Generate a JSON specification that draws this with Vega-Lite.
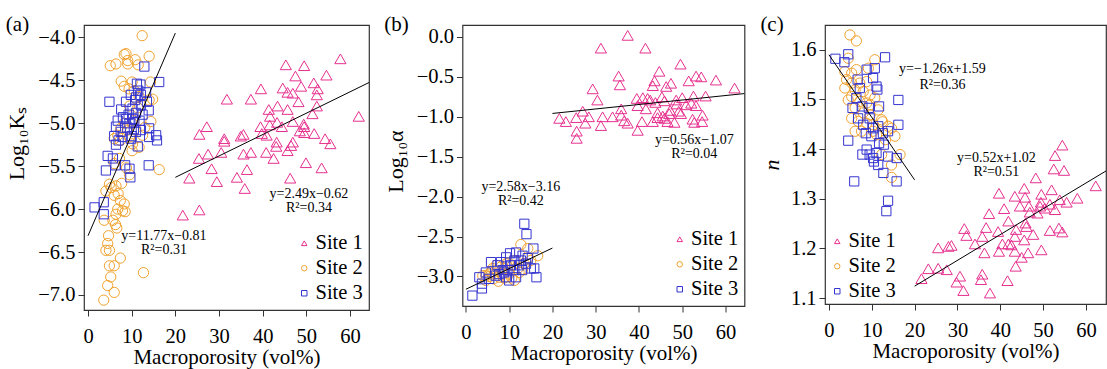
{
"$schema": "https://vega.github.io/schema/vega-lite/v6.json",
"padding": {"left": 5, "top": 13, "right": 0, "bottom": 0},
"config": {
  "font": "Liberation Serif",
  "view": {"stroke": "#333", "strokeWidth": 1.2},
  "axis": {"grid": false, "domain": false, "tickColor": "#333", "tickSize": 6, "labelFontSize": 20.5, "titleFontSize": 21, "labelColor": "black", "titleColor": "black", "titleFontWeight": "normal", "labelPadding": 3, "labelFont": "Liberation Serif", "titleFont": "Liberation Serif"},
  "axisX": {"labelPadding": 10, "titlePadding": 0},
  "axisY": {"titleFontSize": 22, "titlePadding": 9},
  "legend": {"labelFontSize": 20.5, "labelFont": "Liberation Serif", "labelColor": "black", "symbolSize": 30, "symbolStrokeWidth": 1, "rowPadding": 4, "labelOffset": 1, "padding": 0, "offset": 6},
  "title": {"font": "Liberation Serif", "fontSize": 21, "fontWeight": "normal", "anchor": "start", "frame": "bounds", "offset": -10, "color": "black"}
},
"datasets": {
"a": [
{"site":"Site 1","x":45.3,"y":-4.32},{"site":"Site 1","x":49.5,"y":-4.33},{"site":"Site 1","x":57.8,"y":-4.25},{"site":"Site 1","x":47.5,"y":-4.45},{"site":"Site 1","x":54.6,"y":-4.44},{"site":"Site 1","x":39.6,"y":-4.6},{"site":"Site 1","x":44.6,"y":-4.59},{"site":"Site 1","x":48.8,"y":-4.57},{"site":"Site 1","x":51.7,"y":-4.53},{"site":"Site 1","x":52.6,"y":-4.6},{"site":"Site 1","x":45.7,"y":-4.64},{"site":"Site 1","x":46.9,"y":-4.65},{"site":"Site 1","x":52.4,"y":-4.67},{"site":"Site 1","x":31.8,"y":-4.72},{"site":"Site 1","x":37.3,"y":-4.72},{"site":"Site 1","x":48.2,"y":-4.75},{"site":"Site 1","x":43.4,"y":-4.8},{"site":"Site 1","x":41.4,"y":-4.84},{"site":"Site 1","x":45.7,"y":-4.84},{"site":"Site 1","x":52.4,"y":-4.8},{"site":"Site 1","x":51.4,"y":-4.89},{"site":"Site 1","x":62.0,"y":-4.92},{"site":"Site 1","x":41.7,"y":-4.92},{"site":"Site 1","x":43.3,"y":-4.99},{"site":"Site 1","x":46.9,"y":-4.98},{"site":"Site 1","x":27.2,"y":-5.04},{"site":"Site 1","x":39.5,"y":-5.04},{"site":"Site 1","x":41.6,"y":-5.02},{"site":"Site 1","x":44.4,"y":-5.04},{"site":"Site 1","x":49.4,"y":-5.01},{"site":"Site 1","x":49.5,"y":-5.04},{"site":"Site 1","x":48.5,"y":-5.09},{"site":"Site 1","x":25.5,"y":-5.13},{"site":"Site 1","x":35.6,"y":-5.13},{"site":"Site 1","x":35.0,"y":-5.15},{"site":"Site 1","x":31.2,"y":-5.18},{"site":"Site 1","x":31.2,"y":-5.21},{"site":"Site 1","x":39.8,"y":-5.12},{"site":"Site 1","x":40.9,"y":-5.14},{"site":"Site 1","x":51.8,"y":-5.12},{"site":"Site 1","x":49.5,"y":-5.11},{"site":"Site 1","x":54.3,"y":-5.18},{"site":"Site 1","x":55.5,"y":-5.24},{"site":"Site 1","x":43.2,"y":-5.22},{"site":"Site 1","x":43.1,"y":-5.27},{"site":"Site 1","x":46.9,"y":-5.22},{"site":"Site 1","x":46.5,"y":-5.26},{"site":"Site 1","x":45.7,"y":-5.32},{"site":"Site 1","x":27.5,"y":-5.36},{"site":"Site 1","x":30.5,"y":-5.34},{"site":"Site 1","x":35.6,"y":-5.36},{"site":"Site 1","x":37.3,"y":-5.34},{"site":"Site 1","x":40.8,"y":-5.34},{"site":"Site 1","x":25.4,"y":-5.41},{"site":"Site 1","x":42.5,"y":-5.41},{"site":"Site 1","x":28.3,"y":-5.53},{"site":"Site 1","x":36.4,"y":-5.54},{"site":"Site 1","x":49.9,"y":-5.46},{"site":"Site 1","x":53.5,"y":-5.52},{"site":"Site 1","x":23.2,"y":-5.64},{"site":"Site 1","x":29.5,"y":-5.68},{"site":"Site 1","x":34.1,"y":-5.63},{"site":"Site 1","x":35.9,"y":-5.76},{"site":"Site 1","x":46.3,"y":-5.64},{"site":"Site 1","x":21.7,"y":-6.07},{"site":"Site 1","x":25.5,"y":-6.01},
{"site":"Site 2","x":12.4,"y":-3.98},{"site":"Site 2","x":8.3,"y":-4.2},{"site":"Site 2","x":8.7,"y":-4.19},{"site":"Site 2","x":5.1,"y":-4.33},{"site":"Site 2","x":6.4,"y":-4.31},{"site":"Site 2","x":9.1,"y":-4.27},{"site":"Site 2","x":9.1,"y":-4.31},{"site":"Site 2","x":10.8,"y":-4.26},{"site":"Site 2","x":11.5,"y":-4.32},{"site":"Site 2","x":14.0,"y":-4.22},{"site":"Site 2","x":7.6,"y":-4.51},{"site":"Site 2","x":8.3,"y":-4.57},{"site":"Site 2","x":10.1,"y":-4.52},{"site":"Site 2","x":9.4,"y":-4.6},{"site":"Site 2","x":10.6,"y":-4.62},{"site":"Site 2","x":11.7,"y":-4.69},{"site":"Site 2","x":14.3,"y":-4.52},{"site":"Site 2","x":14.0,"y":-4.73},{"site":"Site 2","x":14.8,"y":-4.72},{"site":"Site 2","x":11.4,"y":-4.82},{"site":"Site 2","x":10.5,"y":-4.97},{"site":"Site 2","x":10.1,"y":-5.0},{"site":"Site 2","x":8.3,"y":-5.0},{"site":"Site 2","x":9.0,"y":-5.08},{"site":"Site 2","x":7.5,"y":-5.06},{"site":"Site 2","x":6.8,"y":-5.14},{"site":"Site 2","x":6.0,"y":-5.18},{"site":"Site 2","x":7.4,"y":-5.2},{"site":"Site 2","x":9.5,"y":-5.16},{"site":"Site 2","x":10.2,"y":-5.24},{"site":"Site 2","x":10.1,"y":-5.32},{"site":"Site 2","x":7.2,"y":-5.41},{"site":"Site 2","x":4.9,"y":-5.71},{"site":"Site 2","x":5.3,"y":-5.75},{"site":"Site 2","x":6.4,"y":-5.73},{"site":"Site 2","x":7.7,"y":-5.7},{"site":"Site 2","x":4.1,"y":-5.79},{"site":"Site 2","x":6.0,"y":-5.84},{"site":"Site 2","x":6.9,"y":-5.82},{"site":"Site 2","x":7.4,"y":-5.9},{"site":"Site 2","x":8.3,"y":-5.94},{"site":"Site 2","x":6.8,"y":-6.0},{"site":"Site 2","x":7.9,"y":-6.02},{"site":"Site 2","x":8.5,"y":-6.03},{"site":"Site 2","x":6.4,"y":-6.06},{"site":"Site 2","x":3.7,"y":-6.13},{"site":"Site 2","x":5.7,"y":-6.13},{"site":"Site 2","x":6.3,"y":-6.18},{"site":"Site 2","x":6.6,"y":-6.22},{"site":"Site 2","x":4.7,"y":-6.31},{"site":"Site 2","x":4.5,"y":-6.4},{"site":"Site 2","x":4.1,"y":-6.48},{"site":"Site 2","x":4.9,"y":-6.48},{"site":"Site 2","x":4.9,"y":-6.66},{"site":"Site 2","x":6.0,"y":-6.66},{"site":"Site 2","x":7.4,"y":-6.57},{"site":"Site 2","x":5.2,"y":-6.79},{"site":"Site 2","x":4.5,"y":-6.89},{"site":"Site 2","x":6.0,"y":-6.97},{"site":"Site 2","x":3.6,"y":-7.06},{"site":"Site 2","x":12.7,"y":-6.74},{"site":"Site 2","x":16.3,"y":-5.54},{"site":"Site 2","x":11.7,"y":-5.28},{"site":"Site 2","x":12.5,"y":-5.14},{"site":"Site 2","x":9.5,"y":-4.8},{"site":"Site 2","x":6.0,"y":-5.47},{"site":"Site 2","x":8.8,"y":-5.52},{"site":"Site 2","x":9.5,"y":-5.6},{"site":"Site 2","x":14.4,"y":-4.98},{"site":"Site 2","x":13.0,"y":-5.05},
{"site":"Site 3","x":12.9,"y":-4.34},{"site":"Site 3","x":4.9,"y":-4.75},{"site":"Site 3","x":11.2,"y":-4.54},{"site":"Site 3","x":11.5,"y":-4.62},{"site":"Site 3","x":12.1,"y":-4.67},{"site":"Site 3","x":13.3,"y":-4.64},{"site":"Site 3","x":16.3,"y":-4.52},{"site":"Site 3","x":9.8,"y":-4.67},{"site":"Site 3","x":8.7,"y":-4.75},{"site":"Site 3","x":10.8,"y":-4.73},{"site":"Site 3","x":13.9,"y":-4.85},{"site":"Site 3","x":7.6,"y":-4.84},{"site":"Site 3","x":10.2,"y":-4.83},{"site":"Site 3","x":12.1,"y":-4.79},{"site":"Site 3","x":8.7,"y":-4.95},{"site":"Site 3","x":6.8,"y":-4.97},{"site":"Site 3","x":9.5,"y":-5.0},{"site":"Site 3","x":10.6,"y":-4.99},{"site":"Site 3","x":12.1,"y":-5.08},{"site":"Site 3","x":14.0,"y":-5.06},{"site":"Site 3","x":6.4,"y":-5.04},{"site":"Site 3","x":6.0,"y":-5.15},{"site":"Site 3","x":6.4,"y":-5.25},{"site":"Site 3","x":7.9,"y":-5.16},{"site":"Site 3","x":9.8,"y":-5.18},{"site":"Site 3","x":11.4,"y":-5.27},{"site":"Site 3","x":14.0,"y":-5.16},{"site":"Site 3","x":15.6,"y":-5.14},{"site":"Site 3","x":15.8,"y":-5.2},{"site":"Site 3","x":4.5,"y":-5.38},{"site":"Site 3","x":5.7,"y":-5.41},{"site":"Site 3","x":4.1,"y":-5.55},{"site":"Site 3","x":6.3,"y":-5.49},{"site":"Site 3","x":8.5,"y":-5.49},{"site":"Site 3","x":9.5,"y":-5.53},{"site":"Site 3","x":9.7,"y":-5.63},{"site":"Site 3","x":13.9,"y":-5.49},{"site":"Site 3","x":1.5,"y":-5.98},{"site":"Site 3","x":3.6,"y":-5.92},{"site":"Site 3","x":3.6,"y":-6.06},{"site":"Site 3","x":9.3,"y":-4.9},{"site":"Site 3","x":10.3,"y":-4.95},{"site":"Site 3","x":11.0,"y":-4.88},{"site":"Site 3","x":11.8,"y":-4.97},{"site":"Site 3","x":10.5,"y":-5.07},{"site":"Site 3","x":12.5,"y":-4.9},{"site":"Site 3","x":11.0,"y":-5.1},{"site":"Site 3","x":9.0,"y":-5.05},{"site":"Site 3","x":7.5,"y":-5.1},{"site":"Site 3","x":11.0,"y":-4.7},{"site":"Site 3","x":12.0,"y":-4.55},{"site":"Site 3","x":10.0,"y":-5.15},{"site":"Site 3","x":13.5,"y":-4.75},{"site":"Site 3","x":8.0,"y":-4.93},{"site":"Site 3","x":7.0,"y":-5.2}
],
"b": [
{"site":"Site 1","x":37.4,"y":0.02},{"site":"Site 1","x":31.2,"y":-0.14},{"site":"Site 1","x":41.5,"y":-0.14},{"site":"Site 1","x":49.6,"y":-0.34},{"site":"Site 1","x":44.7,"y":-0.43},{"site":"Site 1","x":35.3,"y":-0.49},{"site":"Site 1","x":35.6,"y":-0.6},{"site":"Site 1","x":43.6,"y":-0.55},{"site":"Site 1","x":53.2,"y":-0.49},{"site":"Site 1","x":54.4,"y":-0.5},{"site":"Site 1","x":57.8,"y":-0.54},{"site":"Site 1","x":62.1,"y":-0.64},{"site":"Site 1","x":51.5,"y":-0.55},{"site":"Site 1","x":47.4,"y":-0.58},{"site":"Site 1","x":43.2,"y":-0.61},{"site":"Site 1","x":46.3,"y":-0.62},{"site":"Site 1","x":29.3,"y":-0.65},{"site":"Site 1","x":30.4,"y":-0.79},{"site":"Site 1","x":39.5,"y":-0.77},{"site":"Site 1","x":40.9,"y":-0.76},{"site":"Site 1","x":42.0,"y":-0.77},{"site":"Site 1","x":42.6,"y":-0.79},{"site":"Site 1","x":45.3,"y":-0.75},{"site":"Site 1","x":45.9,"y":-0.8},{"site":"Site 1","x":48.6,"y":-0.79},{"site":"Site 1","x":50.0,"y":-0.76},{"site":"Site 1","x":52.6,"y":-0.74},{"site":"Site 1","x":55.4,"y":-0.74},{"site":"Site 1","x":39.7,"y":-0.86},{"site":"Site 1","x":35.9,"y":-0.9},{"site":"Site 1","x":43.8,"y":-0.82},{"site":"Site 1","x":48.7,"y":-0.84},{"site":"Site 1","x":50.9,"y":-0.85},{"site":"Site 1","x":52.1,"y":-0.83},{"site":"Site 1","x":53.2,"y":-0.86},{"site":"Site 1","x":27.0,"y":-0.93},{"site":"Site 1","x":41.6,"y":-0.9},{"site":"Site 1","x":44.3,"y":-0.95},{"site":"Site 1","x":47.2,"y":-0.92},{"site":"Site 1","x":49.2,"y":-0.93},{"site":"Site 1","x":21.6,"y":-1.02},{"site":"Site 1","x":23.1,"y":-1.06},{"site":"Site 1","x":25.5,"y":-1.01},{"site":"Site 1","x":28.4,"y":-1.0},{"site":"Site 1","x":31.6,"y":-1.0},{"site":"Site 1","x":33.9,"y":-1.0},{"site":"Site 1","x":35.9,"y":-0.98},{"site":"Site 1","x":36.6,"y":-1.05},{"site":"Site 1","x":37.4,"y":-1.08},{"site":"Site 1","x":27.6,"y":-1.08},{"site":"Site 1","x":31.2,"y":-1.11},{"site":"Site 1","x":25.6,"y":-1.18},{"site":"Site 1","x":25.6,"y":-1.27},{"site":"Site 1","x":39.7,"y":-1.17},{"site":"Site 1","x":40.7,"y":-1.06},{"site":"Site 1","x":43.2,"y":-1.06},{"site":"Site 1","x":44.3,"y":-1.01},{"site":"Site 1","x":45.5,"y":-0.99},{"site":"Site 1","x":46.6,"y":-1.06},{"site":"Site 1","x":48.2,"y":-1.07},{"site":"Site 1","x":49.7,"y":-0.96},{"site":"Site 1","x":52.4,"y":-1.03},{"site":"Site 1","x":52.8,"y":-1.07},{"site":"Site 1","x":54.7,"y":-0.98},{"site":"Site 1","x":54.6,"y":-1.06},{"site":"Site 1","x":47.0,"y":-0.96},{"site":"Site 1","x":45.9,"y":-1.02},
{"site":"Site 2","x":12.7,"y":-2.6},{"site":"Site 2","x":14.3,"y":-2.65},{"site":"Site 2","x":16.6,"y":-2.74},{"site":"Site 2","x":15.0,"y":-2.8},{"site":"Site 2","x":3.9,"y":-2.99},{"site":"Site 2","x":4.6,"y":-3.05},{"site":"Site 2","x":5.4,"y":-3.0},{"site":"Site 2","x":6.5,"y":-2.97},{"site":"Site 2","x":7.7,"y":-3.01},{"site":"Site 2","x":7.5,"y":-3.06},{"site":"Site 2","x":8.9,"y":-2.9},{"site":"Site 2","x":8.1,"y":-2.88},{"site":"Site 2","x":10.0,"y":-2.97},{"site":"Site 2","x":11.2,"y":-3.05},{"site":"Site 2","x":10.8,"y":-2.86},{"site":"Site 2","x":9.3,"y":-2.84},{"site":"Site 2","x":13.5,"y":-2.84},{"site":"Site 2","x":12.3,"y":-2.95},{"site":"Site 2","x":6.2,"y":-2.9},{"site":"Site 2","x":6.9,"y":-2.92},{"site":"Site 2","x":5.8,"y":-2.94},{"site":"Site 2","x":8.8,"y":-3.02},{"site":"Site 2","x":12.0,"y":-2.9},{"site":"Site 2","x":14.3,"y":-2.77},{"site":"Site 2","x":7.0,"y":-2.86},{"site":"Site 2","x":9.8,"y":-2.83},{"site":"Site 2","x":11.4,"y":-2.8},{"site":"Site 2","x":5.4,"y":-2.97},{"site":"Site 2","x":8.4,"y":-2.97},{"site":"Site 2","x":4.6,"y":-2.99},{"site":"Site 2","x":6.4,"y":-3.03},{"site":"Site 2","x":10.6,"y":-3.02},{"site":"Site 2","x":13.1,"y":-2.91},
{"site":"Site 3","x":13.5,"y":-2.34},{"site":"Site 3","x":14.0,"y":-2.47},{"site":"Site 3","x":15.6,"y":-2.65},{"site":"Site 3","x":1.5,"y":-3.24},{"site":"Site 3","x":3.7,"y":-3.15},{"site":"Site 3","x":3.7,"y":-3.09},{"site":"Site 3","x":5.8,"y":-2.82},{"site":"Site 3","x":8.5,"y":-2.92},{"site":"Site 3","x":10.2,"y":-2.71},{"site":"Site 3","x":11.6,"y":-2.7},{"site":"Site 3","x":12.7,"y":-2.8},{"site":"Site 3","x":15.0,"y":-2.9},{"site":"Site 3","x":15.8,"y":-2.9},{"site":"Site 3","x":16.3,"y":-3.01},{"site":"Site 3","x":14.3,"y":-2.77},{"site":"Site 3","x":13.0,"y":-2.92},{"site":"Site 3","x":11.2,"y":-2.92},{"site":"Site 3","x":11.2,"y":-2.8},{"site":"Site 3","x":9.3,"y":-2.76},{"site":"Site 3","x":7.3,"y":-2.86},{"site":"Site 3","x":6.9,"y":-2.99},{"site":"Site 3","x":4.6,"y":-2.95},{"site":"Site 3","x":5.4,"y":-3.03},{"site":"Site 3","x":9.3,"y":-3.01},{"site":"Site 3","x":11.6,"y":-3.01},{"site":"Site 3","x":10.4,"y":-2.86},{"site":"Site 3","x":12.3,"y":-2.86},{"site":"Site 3","x":13.9,"y":-2.84},{"site":"Site 3","x":8.1,"y":-2.82},{"site":"Site 3","x":9.6,"y":-2.92},{"site":"Site 3","x":3.1,"y":-3.01},{"site":"Site 3","x":10.0,"y":-3.05},{"site":"Site 3","x":13.1,"y":-2.74},{"site":"Site 3","x":7.7,"y":-2.97},{"site":"Site 3","x":8.8,"y":-2.95}
],
"c": [
{"site":"Site 1","x":54.5,"y":1.408},{"site":"Site 1","x":52.8,"y":1.387},{"site":"Site 1","x":52.5,"y":1.36},{"site":"Site 1","x":54.9,"y":1.357},{"site":"Site 1","x":48.3,"y":1.342},{"site":"Site 1","x":62.3,"y":1.326},{"site":"Site 1","x":39.7,"y":1.311},{"site":"Site 1","x":45.6,"y":1.321},{"site":"Site 1","x":43.4,"y":1.305},{"site":"Site 1","x":45.8,"y":1.303},{"site":"Site 1","x":49.6,"y":1.309},{"site":"Site 1","x":52.0,"y":1.318},{"site":"Site 1","x":58.0,"y":1.301},{"site":"Site 1","x":55.5,"y":1.293},{"site":"Site 1","x":44.6,"y":1.285},{"site":"Site 1","x":46.7,"y":1.285},{"site":"Site 1","x":49.3,"y":1.285},{"site":"Site 1","x":50.4,"y":1.281},{"site":"Site 1","x":51.6,"y":1.289},{"site":"Site 1","x":52.8,"y":1.278},{"site":"Site 1","x":40.9,"y":1.28},{"site":"Site 1","x":37.4,"y":1.27},{"site":"Site 1","x":46.9,"y":1.273},{"site":"Site 1","x":48.7,"y":1.271},{"site":"Site 1","x":41.9,"y":1.255},{"site":"Site 1","x":45.9,"y":1.251},{"site":"Site 1","x":46.1,"y":1.244},{"site":"Site 1","x":36.7,"y":1.242},{"site":"Site 1","x":31.6,"y":1.24},{"site":"Site 1","x":39.5,"y":1.234},{"site":"Site 1","x":43.7,"y":1.238},{"site":"Site 1","x":51.6,"y":1.236},{"site":"Site 1","x":53.7,"y":1.241},{"site":"Site 1","x":54.5,"y":1.233},{"site":"Site 1","x":32.1,"y":1.226},{"site":"Site 1","x":35.8,"y":1.224},{"site":"Site 1","x":43.4,"y":1.224},{"site":"Site 1","x":47.7,"y":1.228},{"site":"Site 1","x":34.1,"y":1.209},{"site":"Site 1","x":40.5,"y":1.209},{"site":"Site 1","x":41.9,"y":1.209},{"site":"Site 1","x":42.6,"y":1.207},{"site":"Site 1","x":45.6,"y":1.217},{"site":"Site 1","x":25.5,"y":1.201},{"site":"Site 1","x":27.9,"y":1.204},{"site":"Site 1","x":28.6,"y":1.206},{"site":"Site 1","x":36.3,"y":1.191},{"site":"Site 1","x":39.7,"y":1.194},{"site":"Site 1","x":43.4,"y":1.194},{"site":"Site 1","x":49.6,"y":1.197},{"site":"Site 1","x":45.0,"y":1.182},{"site":"Site 1","x":46.5,"y":1.191},{"site":"Site 1","x":43.6,"y":1.164},{"site":"Site 1","x":23.2,"y":1.159},{"site":"Site 1","x":25.5,"y":1.16},{"site":"Site 1","x":27.5,"y":1.157},{"site":"Site 1","x":21.6,"y":1.139},{"site":"Site 1","x":30.6,"y":1.144},{"site":"Site 1","x":35.8,"y":1.148},{"site":"Site 1","x":41.7,"y":1.135},{"site":"Site 1","x":29.8,"y":1.132},{"site":"Site 1","x":35.5,"y":1.137},{"site":"Site 1","x":31.4,"y":1.115},{"site":"Site 1","x":37.6,"y":1.11},{"site":"Site 1","x":53.9,"y":1.298},{"site":"Site 1","x":49.5,"y":1.293},
{"site":"Site 2","x":4.9,"y":1.63},{"site":"Site 2","x":6.4,"y":1.618},{"site":"Site 2","x":4.5,"y":1.583},{"site":"Site 2","x":10.7,"y":1.58},{"site":"Site 2","x":3.7,"y":1.556},{"site":"Site 2","x":5.3,"y":1.553},{"site":"Site 2","x":6.4,"y":1.56},{"site":"Site 2","x":9.2,"y":1.563},{"site":"Site 2","x":4.1,"y":1.54},{"site":"Site 2","x":5.3,"y":1.533},{"site":"Site 2","x":7.2,"y":1.533},{"site":"Site 2","x":8.8,"y":1.536},{"site":"Site 2","x":3.7,"y":1.523},{"site":"Site 2","x":6.1,"y":1.519},{"site":"Site 2","x":8.0,"y":1.516},{"site":"Site 2","x":9.6,"y":1.509},{"site":"Site 2","x":10.7,"y":1.503},{"site":"Site 2","x":5.3,"y":1.506},{"site":"Site 2","x":7.2,"y":1.496},{"site":"Site 2","x":8.8,"y":1.493},{"site":"Site 2","x":6.1,"y":1.483},{"site":"Site 2","x":8.0,"y":1.473},{"site":"Site 2","x":9.6,"y":1.469},{"site":"Site 2","x":11.5,"y":1.479},{"site":"Site 2","x":5.3,"y":1.462},{"site":"Site 2","x":6.8,"y":1.456},{"site":"Site 2","x":8.8,"y":1.452},{"site":"Site 2","x":10.3,"y":1.449},{"site":"Site 2","x":12.3,"y":1.459},{"site":"Site 2","x":6.1,"y":1.436},{"site":"Site 2","x":7.6,"y":1.436},{"site":"Site 2","x":10.3,"y":1.436},{"site":"Site 2","x":11.1,"y":1.429},{"site":"Site 2","x":12.5,"y":1.455},{"site":"Site 2","x":13.8,"y":1.446},{"site":"Site 2","x":14.6,"y":1.442},{"site":"Site 2","x":15.4,"y":1.426},{"site":"Site 2","x":16.6,"y":1.389},{"site":"Site 2","x":14.6,"y":1.368},{"site":"Site 2","x":14.6,"y":1.343},{"site":"Site 2","x":13.2,"y":1.419},{"site":"Site 2","x":12.3,"y":1.389},{"site":"Site 2","x":9.6,"y":1.489},{"site":"Site 2","x":4.5,"y":1.499},
{"site":"Site 3","x":1.5,"y":1.582},{"site":"Site 3","x":3.6,"y":1.575},{"site":"Site 3","x":4.5,"y":1.591},{"site":"Site 3","x":13.1,"y":1.585},{"site":"Site 3","x":8.8,"y":1.56},{"site":"Site 3","x":10.7,"y":1.563},{"site":"Site 3","x":10.3,"y":1.543},{"site":"Site 3","x":11.1,"y":1.526},{"site":"Site 3","x":11.3,"y":1.52},{"site":"Site 3","x":16.2,"y":1.499},{"site":"Site 3","x":6.7,"y":1.54},{"site":"Site 3","x":7.2,"y":1.523},{"site":"Site 3","x":6.4,"y":1.503},{"site":"Site 3","x":5.5,"y":1.483},{"site":"Site 3","x":7.8,"y":1.486},{"site":"Site 3","x":9.3,"y":1.483},{"site":"Site 3","x":11.7,"y":1.486},{"site":"Site 3","x":6.8,"y":1.462},{"site":"Site 3","x":9.5,"y":1.462},{"site":"Site 3","x":8.0,"y":1.449},{"site":"Site 3","x":10.3,"y":1.442},{"site":"Site 3","x":11.5,"y":1.446},{"site":"Site 3","x":12.6,"y":1.432},{"site":"Site 3","x":13.8,"y":1.436},{"site":"Site 3","x":16.2,"y":1.449},{"site":"Site 3","x":4.5,"y":1.417},{"site":"Site 3","x":8.8,"y":1.399},{"site":"Site 3","x":9.5,"y":1.389},{"site":"Site 3","x":10.3,"y":1.382},{"site":"Site 3","x":11.1,"y":1.392},{"site":"Site 3","x":7.8,"y":1.389},{"site":"Site 3","x":11.5,"y":1.368},{"site":"Site 3","x":10.5,"y":1.375},{"site":"Site 3","x":12.7,"y":1.352},{"site":"Site 3","x":13.8,"y":1.385},{"site":"Site 3","x":15.8,"y":1.382},{"site":"Site 3","x":15.8,"y":1.335},{"site":"Site 3","x":5.9,"y":1.335},{"site":"Site 3","x":13.8,"y":1.296},{"site":"Site 3","x":13.4,"y":1.275},{"site":"Site 3","x":9.9,"y":1.426},{"site":"Site 3","x":11.7,"y":1.412},{"site":"Site 3","x":8.6,"y":1.432},{"site":"Site 3","x":12.8,"y":1.409}
],
"fits": [
{"panel":"a","g":"1","x":20,"y":-5.63},{"panel":"a","g":"1","x":64.35,"y":-4.526},
{"panel":"a","g":"2","x":0,"y":-6.31},{"panel":"a","g":"2","x":20,"y":-3.95},
{"panel":"b","g":"1","x":20,"y":-0.958},{"panel":"b","g":"1","x":64.4,"y":-0.709},
{"panel":"b","g":"2","x":0,"y":-3.16},{"panel":"b","g":"2","x":20,"y":-2.644},
{"panel":"c","g":"1","x":20,"y":1.124},{"panel":"c","g":"1","x":64.7,"y":1.356},
{"panel":"c","g":"2","x":0,"y":1.59},{"panel":"c","g":"2","x":20,"y":1.338}
],
"notes": [
{"panel":"a","x":17.4,"y":-6.31,"text":"y=11.77x−0.81"},{"panel":"a","x":17.4,"y":-6.48,"text":"R²=0.31"},
{"panel":"a","x":50.6,"y":-5.82,"text":"y=2.49x−0.62"},{"panel":"a","x":50.6,"y":-5.99,"text":"R²=0.34"},
{"panel":"b","x":52.8,"y":-1.29,"text":"y=0.56x−1.07"},{"panel":"b","x":52.8,"y":-1.47,"text":"R²=0.04"},
{"panel":"b","x":12.7,"y":-1.885,"text":"y=2.58x−3.16"},{"panel":"b","x":12.7,"y":-2.06,"text":"R²=0.42"},
{"panel":"c","x":26.5,"y":1.562,"text":"y=−1.26x+1.59"},{"panel":"c","x":26.5,"y":1.529,"text":"R²=0.36"},
{"panel":"c","x":39.1,"y":1.383,"text":"y=0.52x+1.02"},{"panel":"c","x":39.1,"y":1.353,"text":"R²=0.51"}
]
},
"spacing": 13.5,
"resolve": {"legend": {"color": "independent", "shape": "independent"}},
"hconcat": [
{
 "width": 285, "height": 285,
 "title": {"text": "(a)"},
 "layer": [
  {"data": {"name": "a"}, "mark": {"type": "point", "filled": false, "strokeWidth": 1, "opacity": 1},
   "encoding": {
    "x": {"field": "x", "type": "quantitative", "scale": {"domain": [-0.92, 64.35], "nice": false, "zero": false}, "axis": {"values": [0,10,20,30,40,50,60], "title": "Macroporosity (vol%)"}},
    "y": {"field": "y", "type": "quantitative", "scale": {"domain": [-7.175, -3.856], "nice": false, "zero": false}, "axis": {"values": [-7,-6.5,-6,-5.5,-5,-4.5,-4], "format": ".1f", "title": "Log₁₀Kₛ", "titleY": 118}},
    "color": {"field": "site", "type": "nominal", "scale": {"domain": ["Site 1","Site 2","Site 3"], "range": ["#e6308f","#f0a22e","#3535d0"]}, "legend": {"orient": "bottom-right", "title": null}},
    "shape": {"field": "site", "type": "nominal", "scale": {"domain": ["Site 1","Site 2","Site 3"], "range": ["triangle-up","circle","square"]}, "legend": {"orient": "bottom-right", "title": null}},
    "size": {"field": "site", "type": "nominal", "scale": {"domain": ["Site 1","Site 2","Site 3"], "range": [125, 85, 70]}, "legend": null}
   }},
  {"data": {"name": "fits"}, "transform": [{"filter": "datum.panel == 'a'"}], "mark": {"type": "line", "color": "black", "strokeWidth": 1, "clip": true},
   "encoding": {"x": {"field": "x", "type": "quantitative"}, "y": {"field": "y", "type": "quantitative"}, "detail": {"field": "g"}}},
  {"data": {"name": "notes"}, "transform": [{"filter": "datum.panel == 'a'"}], "mark": {"type": "text", "fontSize": 14, "font": "Liberation Serif", "color": "black"},
   "encoding": {"x": {"field": "x", "type": "quantitative"}, "y": {"field": "y", "type": "quantitative"}, "text": {"field": "text"}}}
 ]
},
{
 "width": 282, "height": 281,
 "title": {"text": "(b)"},
 "layer": [
  {"data": {"name": "b"}, "mark": {"type": "point", "filled": false, "strokeWidth": 1, "opacity": 1},
   "encoding": {
    "x": {"field": "x", "type": "quantitative", "scale": {"domain": [-0.79, 64.4], "nice": false, "zero": false}, "axis": {"values": [0,10,20,30,40,50,60], "title": "Macroporosity (vol%)"}},
    "y": {"field": "y", "type": "quantitative", "scale": {"domain": [-3.37, 0.15], "nice": false, "zero": false}, "axis": {"values": [-3,-2.5,-2,-1.5,-1,-0.5,0], "format": ".1f", "title": "Log₁₀α", "titleY": 136}},
    "color": {"field": "site", "type": "nominal", "scale": {"domain": ["Site 1","Site 2","Site 3"], "range": ["#e6308f","#f0a22e","#3535d0"]}, "legend": {"orient": "bottom-right", "title": null}},
    "shape": {"field": "site", "type": "nominal", "scale": {"domain": ["Site 1","Site 2","Site 3"], "range": ["triangle-up","circle","square"]}, "legend": {"orient": "bottom-right", "title": null}},
    "size": {"field": "site", "type": "nominal", "scale": {"domain": ["Site 1","Site 2","Site 3"], "range": [125, 85, 70]}, "legend": null}
   }},
  {"data": {"name": "fits"}, "transform": [{"filter": "datum.panel == 'b'"}], "mark": {"type": "line", "color": "black", "strokeWidth": 1, "clip": true},
   "encoding": {"x": {"field": "x", "type": "quantitative"}, "y": {"field": "y", "type": "quantitative"}, "detail": {"field": "g"}}},
  {"data": {"name": "notes"}, "transform": [{"filter": "datum.panel == 'b'"}], "mark": {"type": "text", "fontSize": 14, "font": "Liberation Serif", "color": "black"},
   "encoding": {"x": {"field": "x", "type": "quantitative"}, "y": {"field": "y", "type": "quantitative"}, "text": {"field": "text"}}}
 ]
},
{
 "width": 281, "height": 279,
 "title": {"text": "(c)"},
 "layer": [
  {"data": {"name": "c"}, "mark": {"type": "point", "filled": false, "strokeWidth": 1, "opacity": 1},
   "encoding": {
    "x": {"field": "x", "type": "quantitative", "scale": {"domain": [-0.93, 64.7], "nice": false, "zero": false}, "axis": {"values": [0,10,20,30,40,50,60], "title": "Macroporosity (vol%)"}},
    "y": {"field": "y", "type": "quantitative", "scale": {"domain": [1.088, 1.65], "nice": false, "zero": false}, "axis": {"values": [1.1,1.2,1.3,1.4,1.5,1.6], "format": ".1f", "title": "n", "titleFontStyle": "italic", "titlePadding": 7}},
    "color": {"field": "site", "type": "nominal", "scale": {"domain": ["Site 1","Site 2","Site 3"], "range": ["#e6308f","#f0a22e","#3535d0"]}, "legend": {"orient": "bottom-left", "title": null, "offset": 2}},
    "shape": {"field": "site", "type": "nominal", "scale": {"domain": ["Site 1","Site 2","Site 3"], "range": ["triangle-up","circle","square"]}, "legend": {"orient": "bottom-left", "title": null, "offset": 2}},
    "size": {"field": "site", "type": "nominal", "scale": {"domain": ["Site 1","Site 2","Site 3"], "range": [125, 85, 70]}, "legend": null}
   }},
  {"data": {"name": "fits"}, "transform": [{"filter": "datum.panel == 'c'"}], "mark": {"type": "line", "color": "black", "strokeWidth": 1, "clip": true},
   "encoding": {"x": {"field": "x", "type": "quantitative"}, "y": {"field": "y", "type": "quantitative"}, "detail": {"field": "g"}}},
  {"data": {"name": "notes"}, "transform": [{"filter": "datum.panel == 'c'"}], "mark": {"type": "text", "fontSize": 14, "font": "Liberation Serif", "color": "black"},
   "encoding": {"x": {"field": "x", "type": "quantitative"}, "y": {"field": "y", "type": "quantitative"}, "text": {"field": "text"}}}
 ]
}
]
}
